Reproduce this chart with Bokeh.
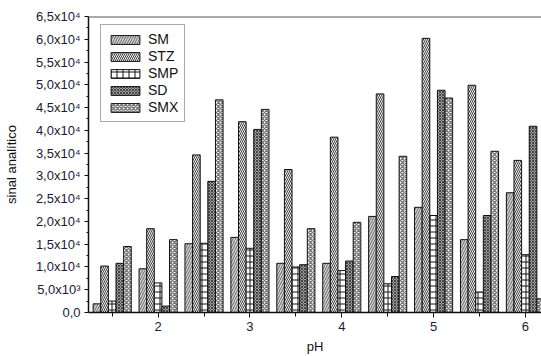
from bokeh.plotting import figure
from bokeh.models import (ColumnDataSource, FixedTicker, Range1d, Legend, LegendItem, Span)
from bokeh.transform import dodge
from bokeh.embed import file_html
from bokeh.resources import INLINE

# ---- data ----
ph = [1.5, 2, 2.5, 3, 3.5, 4, 4.5, 5, 5.5, 6]
SM = [1900, 9600, 15100, 16500, 10800, 10800, 21100, 23100, 16000, 26300]
STZ = [10200, 18400, 34600, 41900, 31400, 38500, 48000, 60200, 49900, 33400]
SMP = [2500, 6500, 15200, 14100, 10000, 9200, 6300, 21300, 4500, 12700]
SD = [10800, 1400, 28800, 40200, 10500, 11300, 7900, 48800, 21300, 40900]
SMX = [14500, 16000, 46700, 44600, 18400, 19800, 34300, 47100, 35400, 3000]
series_names = ["SM", "STZ", "SMP", "SD", "SMX"]

x_ticks = [2, 3, 4, 5, 6]
x_minor = [1.5, 2.5, 3.5, 4.5, 5.5, 6.5]
y_ticks = list(range(0, 65001, 5000))
y_labels = ["0,0", "5,0x10³", "1,0x10⁴", "1,5x10⁴", "2,0x10⁴", "2,5x10⁴", "3,0x10⁴",
            "3,5x10⁴", "4,0x10⁴", "4,5x10⁴", "5,0x10⁴", "5,5x10⁴", "6,0x10⁴", "6,5x10⁴"]
y_minor = list(range(2500, 65000, 5000))

source = ColumnDataSource(dict(ph=ph, SM=SM, STZ=STZ, SMP=SMP, SD=SD, SMX=SMX))

FONT = "Liberation Sans"

p = figure(width=541, height=356, output_backend="svg", toolbar_location=None,
           x_range=Range1d(1.242, 6.175), y_range=Range1d(0, 65000))
p.min_border_left = 86
p.min_border_top = 16
p.min_border_bottom = 44
p.min_border_right = 0
p.outline_line_color = None
p.xgrid.visible = False
p.ygrid.visible = False
p.background_fill_color = "white"
p.border_fill_color = "white"

styles = {
    "SM": dict(fill_color="#d4d4d4", hatch_pattern="/", hatch_color="#666666", hatch_scale=5, hatch_weight=1),
    "STZ": dict(fill_color="#eeeeee", hatch_pattern="\\", hatch_color="#444444", hatch_scale=4, hatch_weight=1),
    "SMP": dict(fill_color="#ffffff", hatch_pattern="+", hatch_color="#111111", hatch_scale=6, hatch_weight=1),
    "SD": dict(fill_color="#a0a0a0", hatch_pattern="x", hatch_color="#444444", hatch_scale=3, hatch_weight=1),
    "SMX": dict(fill_color="#f2f2f2", hatch_pattern="x", hatch_color="#777777", hatch_scale=4, hatch_weight=1.3),
}

bw = 0.083
offsets = [-2 * bw, -bw, 0, bw, 2 * bw]
items = []
for name, off in zip(series_names, offsets):
    r = p.vbar(x=dodge("ph", off, range=p.x_range), top=name, bottom=0, width=bw, source=source,
               line_color="#111111", line_width=1, **styles[name])
    items.append(LegendItem(label=name, renderers=[r]))

# top frame line
p.add_layout(Span(location=65000, dimension="width", line_color="#555555", line_width=2))

legend = Legend(items=items, location=(12, 190), orientation="vertical",
                glyph_width=36, glyph_height=11, label_height=14, spacing=1,
                padding=6, margin=0, label_standoff=5,
                label_text_font=FONT, label_text_font_size="14px", label_text_color="#111111",
                border_line_color="#555555", border_line_width=1.5,
                background_fill_color="white", background_fill_alpha=1)
p.add_layout(legend, "center")

# x axis
xa = p.xaxis[0]
xa.ticker = FixedTicker(ticks=x_ticks, minor_ticks=x_minor)
xa.axis_label = "pH"
xa.axis_label_text_font = FONT
xa.axis_label_text_font_size = "13px"
xa.axis_label_text_font_style = "normal"
xa.axis_label_text_color = "#111111"
xa.axis_label_standoff = 5
xa.major_label_text_font = FONT
xa.major_label_text_font_size = "13px"
xa.major_label_text_color = "#1a1a33"
xa.major_label_standoff = 4
xa.major_tick_in = 0
xa.major_tick_out = 5
xa.minor_tick_in = 0
xa.minor_tick_out = 4
xa.axis_line_width = 1.5
xa.axis_line_color = "#111111"
xa.major_tick_line_color = "#111111"
xa.minor_tick_line_color = "#111111"

# y axis
ya = p.yaxis[0]
ya.ticker = FixedTicker(ticks=y_ticks, minor_ticks=y_minor)
ya.major_label_overrides = {t: lab for t, lab in zip(y_ticks, y_labels)}
ya.axis_label = "sinal analítico"
ya.axis_label_text_font = FONT
ya.axis_label_text_font_size = "13px"
ya.axis_label_text_font_style = "normal"
ya.axis_label_text_color = "#111111"
ya.axis_label_standoff = 14
ya.major_label_text_font = FONT
ya.major_label_text_font_size = "13px"
ya.major_label_text_color = "#1a1a33"
ya.major_label_standoff = 4
ya.major_tick_in = 0
ya.major_tick_out = 4
ya.minor_tick_in = 0
ya.minor_tick_out = 2
ya.axis_line_width = 1.5
ya.axis_line_color = "#111111"
ya.major_tick_line_color = "#111111"
ya.minor_tick_line_color = "#111111"

open("out.html", "w").write(file_html(p, INLINE))
